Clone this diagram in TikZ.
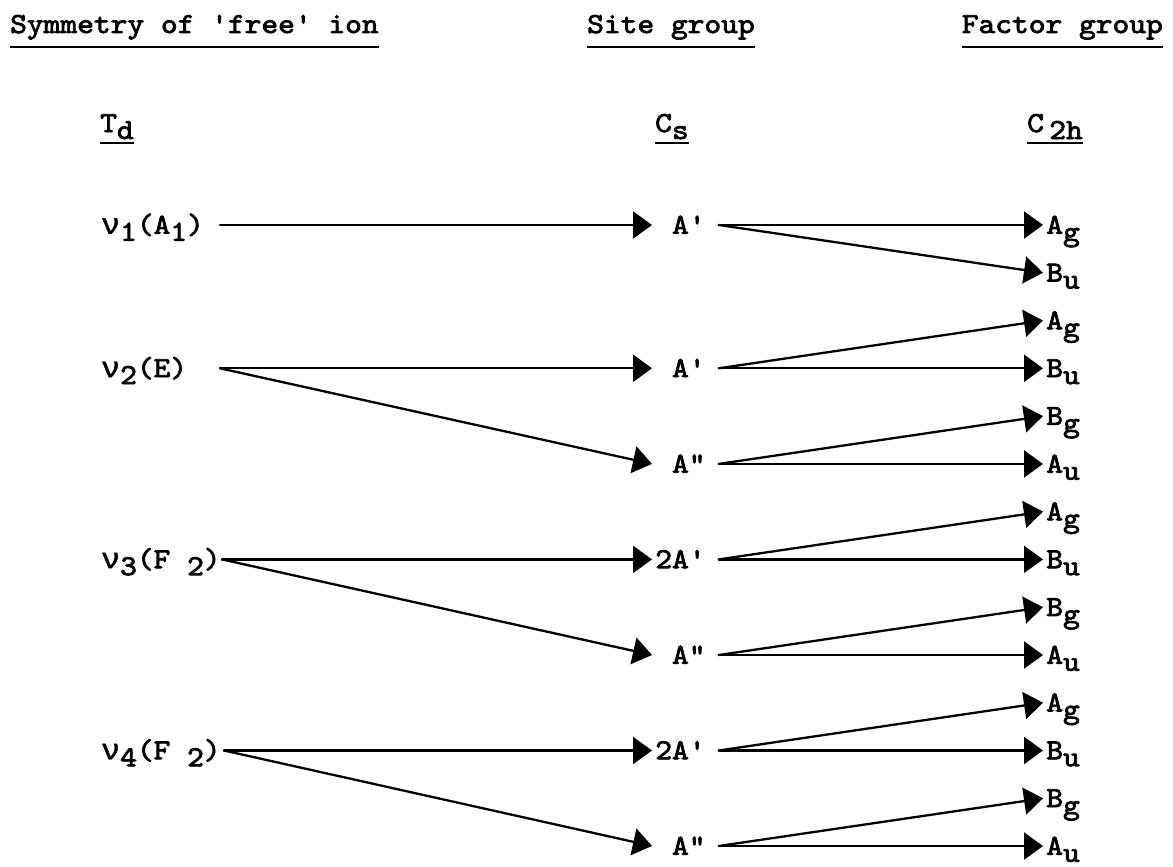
\documentclass[tikz,border=0pt]{standalone}
\usepackage{fontspec}
\newfontfamily\gk{Liberation Mono}[FakeBold=1.5]
\newfontfamily\tw{lmmono10-regular.otf}[FakeBold=2.5]
\usetikzlibrary{arrows.meta}
\newcommand\dn[1]{\raisebox{-7pt}{#1}}
\newcommand\qs{\char"0027\relax}
\newcommand\qd{\char"0022\relax}
\newcommand\nuu{{\gk ν}}
\begin{document}
\begin{tikzpicture}[x=1pt,y=-1pt,
  txt/.style={font=\tw\fontsize{29}{33}\selectfont, inner sep=0pt, xscale=1.1},
  lbl/.style={txt, text height=17.5pt, text depth=0pt, outer sep=3pt},
  arr/.style={line width=2.3pt, line cap=round, -{Triangle[length=19pt,width=27pt]}},
  ul/.style={line width=2.2pt}]
\useasboundingbox (0,0) rectangle (1173,867);
% headers
\node[txt,anchor=base west] (h1) at (10,33) {Symmetry of \qs free\qs{} ion};
\node[txt,anchor=base west] (h2) at (587,33) {Site group};
\node[txt,anchor=base east] (h3) at (1163,33) {Factor group};
\foreach \h in {h1,h2,h3}
  \draw[ul] ([yshift=-14pt]\h.base west) -- ([yshift=-14pt]\h.base east);
% group labels
\node[txt,anchor=base west] (g1) at (100,132) {T\dn{d}};
\node[txt,anchor=base west] (g2) at (655,132) {C\dn{s}};
\node[txt,anchor=base east] (g3) at (1083,132) {C\,\dn{2h}};
\foreach \g in {g1,g2,g3}
  \draw[ul] ([yshift=-11pt]\g.base west) -- ([yshift=-11pt]\g.base east);
% left labels
\node[lbl,anchor=west,outer sep=0pt] (v1) at (101,225.0) {\nuu\dn{1}(A\dn{1})};
\node[lbl,anchor=west,outer sep=0pt] (v2) at (101,368.3) {\nuu\dn{2}(E)};
\node[lbl,anchor=west,outer sep=0pt] (v3) at (101,559.4) {\nuu\dn{3}(F \dn{2})};
\node[lbl,anchor=west,outer sep=0pt] (v4) at (101,750.5) {\nuu\dn{4}(F \dn{2})};
\coordinate (s1) at (220,225.0);
\coordinate (s2) at (220,368.3);
\coordinate (s3) at (222,559.4);
\coordinate (s4) at (224,750.5);
% middle labels
\node[lbl,anchor=west] (m1) at (652,225.0) {\phantom{2}A\qs};
\node[lbl,anchor=west] (m2) at (652,368.3) {\phantom{2}A\qs};
\node[lbl,anchor=west] (m3) at (652,463.9) {\phantom{2}A\qd};
\node[lbl,anchor=west] (m4) at (652,559.4) {2A\qs};
\node[lbl,anchor=west] (m5) at (652,655.0) {\phantom{2}A\qd};
\node[lbl,anchor=west] (m6) at (652,750.5) {2A\qs};
\node[lbl,anchor=west] (m7) at (652,846.0) {\phantom{2}A\qd};
% right labels
\node[lbl,anchor=west] (r0)  at (1043,225.0) {A\dn{g}};
\node[lbl,anchor=west] (r1)  at (1043,272.8) {B\dn{u}};
\node[lbl,anchor=west] (r2)  at (1043,320.5) {A\dn{g}};
\node[lbl,anchor=west] (r3)  at (1043,368.3) {B\dn{u}};
\node[lbl,anchor=west] (r4)  at (1043,416.1) {B\dn{g}};
\node[lbl,anchor=west] (r5)  at (1043,463.9) {A\dn{u}};
\node[lbl,anchor=west] (r6)  at (1043,511.6) {A\dn{g}};
\node[lbl,anchor=west] (r7)  at (1043,559.4) {B\dn{u}};
\node[lbl,anchor=west] (r8)  at (1043,607.2) {B\dn{g}};
\node[lbl,anchor=west] (r9)  at (1043,655.0) {A\dn{u}};
\node[lbl,anchor=west] (r10) at (1043,702.7) {A\dn{g}};
\node[lbl,anchor=west] (r11) at (1043,750.5) {B\dn{u}};
\node[lbl,anchor=west] (r12) at (1043,798.3) {B\dn{g}};
\node[lbl,anchor=west] (r13) at (1043,846.0) {A\dn{u}};
% connectors: free ion -> site group
\draw[arr] (s1) -- (m1.west);
\draw[arr] (s2) -- (m2.west);
\draw[arr] (s2) -- (m3.west);
\draw[arr] (s3) -- (m4.west);
\draw[arr] (s3) -- (m5.west);
\draw[arr] (s4) -- (m6.west);
\draw[arr] (s4) -- (m7.west);
% site group -> factor group
\draw[arr] ([xshift=10pt]m1.east) -- (r0.west);
\draw[arr] ([xshift=10pt]m1.east) -- (r1.west);
\draw[arr] ([xshift=10pt]m2.east) -- (r2.west);
\draw[arr] ([xshift=10pt]m2.east) -- (r3.west);
\draw[arr] ([xshift=10pt]m3.east) -- (r4.west);
\draw[arr] ([xshift=10pt]m3.east) -- (r5.west);
\draw[arr] ([xshift=10pt]m4.east) -- (r6.west);
\draw[arr] ([xshift=10pt]m4.east) -- (r7.west);
\draw[arr] ([xshift=10pt]m5.east) -- (r8.west);
\draw[arr] ([xshift=10pt]m5.east) -- (r9.west);
\draw[arr] ([xshift=10pt]m6.east) -- (r10.west);
\draw[arr] ([xshift=10pt]m6.east) -- (r11.west);
\draw[arr] ([xshift=10pt]m7.east) -- (r12.west);
\draw[arr] ([xshift=10pt]m7.east) -- (r13.west);
\end{tikzpicture}
\end{document}
